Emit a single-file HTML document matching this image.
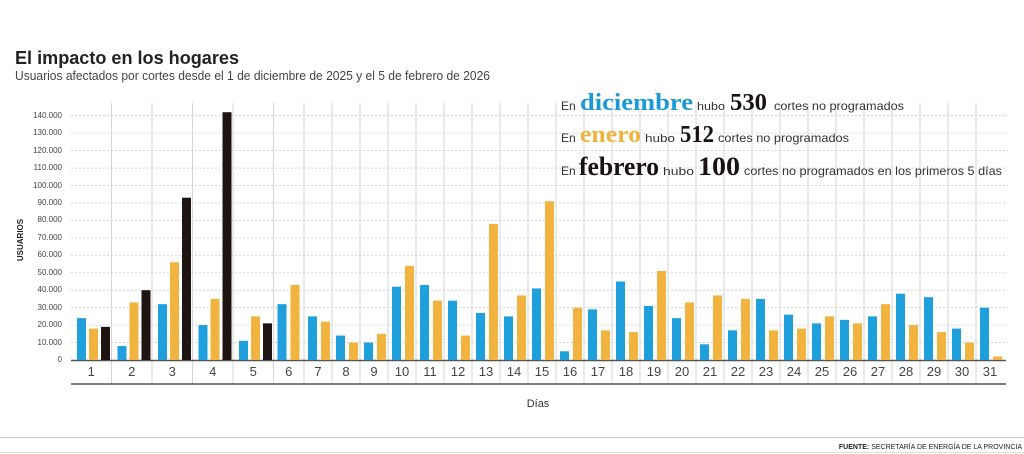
<!DOCTYPE html>
<html><head><meta charset="utf-8"><style>
html,body{margin:0;padding:0;background:#fff;width:1024px;height:454px;overflow:hidden}
svg{display:block;font-family:"Liberation Sans",sans-serif}
</style></head><body>
<svg id="s" width="1024" height="454" xmlns="http://www.w3.org/2000/svg">
<text x="15" y="64" font-size="18" font-weight="bold" fill="#222" textLength="224" lengthAdjust="spacingAndGlyphs">El impacto en los hogares</text>
<text x="15" y="80" font-size="12.5" fill="#444" textLength="475" lengthAdjust="spacingAndGlyphs">Usuarios afectados por cortes desde el 1 de diciembre de 2025 y el 5 de febrero de 2026</text>
<g id="grid"></g>
<g id="bars"></g>
<g font-size="8" fill="#444" text-anchor="end">
<text x="62" y="362">0</text><text x="62" y="345">10.000</text><text x="62" y="327">20.000</text><text x="62" y="310">30.000</text><text x="62" y="292">40.000</text><text x="62" y="275">50.000</text><text x="62" y="257">60.000</text><text x="62" y="240">70.000</text><text x="62" y="222">80.000</text><text x="62" y="205">90.000</text><text x="62" y="188">100.000</text><text x="62" y="170">110.000</text><text x="62" y="153">120.000</text><text x="62" y="135">130.000</text><text x="62" y="118">140.000</text>
</g>
<text transform="translate(23,240) rotate(-90)" font-size="8" font-weight="bold" fill="#222" text-anchor="middle">USUARIOS</text>
<g id="days" font-size="13" fill="#444" text-anchor="middle"></g>
<text x="538" y="407" font-size="11" fill="#333" text-anchor="middle">Días</text>
<g font-size="12" fill="#333">
<text x="561" y="110">En</text>
<text x="580" y="110" font-family="Liberation Serif,serif" font-weight="bold" font-size="24" fill="#1d9ad6" textLength="113" lengthAdjust="spacingAndGlyphs">diciembre</text>
<text x="697" y="110" font-size="11" textLength="28" lengthAdjust="spacingAndGlyphs">hubo</text>
<text x="730" y="110" font-family="Liberation Serif,serif" font-weight="bold" font-size="24" fill="#1a1210" textLength="37" lengthAdjust="spacingAndGlyphs">530</text>
<text x="774" y="110" textLength="130" lengthAdjust="spacingAndGlyphs">cortes no programados</text>
<text x="561" y="142">En</text>
<text x="580" y="142" font-family="Liberation Serif,serif" font-weight="bold" font-size="24" fill="#f0b33e" textLength="61" lengthAdjust="spacingAndGlyphs">enero</text>
<text x="645" y="142" font-size="11" textLength="30" lengthAdjust="spacingAndGlyphs">hubo</text>
<text x="680" y="142" font-family="Liberation Serif,serif" font-weight="bold" font-size="24" fill="#1a1210" textLength="34" lengthAdjust="spacingAndGlyphs">512</text>
<text x="718" y="142" textLength="131" lengthAdjust="spacingAndGlyphs">cortes no programados</text>
<text x="561" y="175">En</text>
<text x="579" y="175" font-family="Liberation Serif,serif" font-weight="bold" font-size="26" fill="#1a1210" textLength="80" lengthAdjust="spacingAndGlyphs">febrero</text>
<text x="663" y="175" font-size="11" textLength="31" lengthAdjust="spacingAndGlyphs">hubo</text>
<text x="698" y="175" font-family="Liberation Serif,serif" font-weight="bold" font-size="26" fill="#1a1210" textLength="42" lengthAdjust="spacingAndGlyphs">100</text>
<text x="744" y="175" textLength="258" lengthAdjust="spacingAndGlyphs">cortes no programados en los primeros 5 días</text>
</g>
<line x1="0" y1="437.5" x2="1024" y2="437.5" stroke="#ccc"/>
<line x1="0" y1="452.5" x2="1024" y2="452.5" stroke="#ddd"/>
<text x="1022" y="449" font-size="7" fill="#222" text-anchor="end"><tspan font-weight="bold">FUENTE:</tspan> SECRETARÍA DE ENERGÍA DE LA PROVINCIA</text>
</svg>
<script>
var NS="http://www.w3.org/2000/svg";
function el(p,t,a){var e=document.createElementNS(NS,t);for(var k in a)e.setAttribute(k,a[k]);document.getElementById(p).appendChild(e);return e;}
var B=360,S=1.745/1000;
var b=[71];for(var i=1;i<=5;i++)b.push(71+40.5*i);for(var d=6;d<=31;d++)b.push(276+28*(d-5));
for(var v=1;v<=14;v++){var y=B-v*10000*S;el("grid","line",{x1:71,x2:1006,y1:y,y2:y,stroke:"#ccc","stroke-width":0.8,"stroke-dasharray":"2,2"});}
for(var i=1;i<b.length-1;i++)el("grid","line",{x1:b[i],x2:b[i],y1:103,y2:384,stroke:"#d4d4d4","stroke-width":1});
el("grid","line",{x1:71,x2:1006,y1:B+0.5,y2:B+0.5,stroke:"#555","stroke-width":1.5});
el("grid","line",{x1:71,x2:1006,y1:384,y2:384,stroke:"#555","stroke-width":1.5});
var data=[[24,18,19],[8,33,40],[32,56,93],[20,35,142],[11,25,21],[32,43],[25,22],[14,10],[10,15],[42,54],[43,34],[34,14],[27,78],[25,37],[41,91],[5,30],[29,17],[45,16],[31,51],[24,33],[9,37],[17,35],[35,17],[26,18],[21,25],[23,21],[25,32],[38,20],[36,16],[18,10],[30,2]];
var C=["#1fa0dc","#f2b441","#1e1412"];
data.forEach(function(vals,i){var x0=b[i],w=b[i+1]-b[i];
 var dt=el("days","text",{x:x0+w/2,y:376});dt.textContent=i+1;
 var off=vals.length==3?[6,18,30]:[4,17];
 vals.forEach(function(v,j){var h=v*1000*S;el("bars","rect",{x:x0+off[j],y:B-h,width:9,height:h,fill:C[j]});});
});
</script>
</body></html>
